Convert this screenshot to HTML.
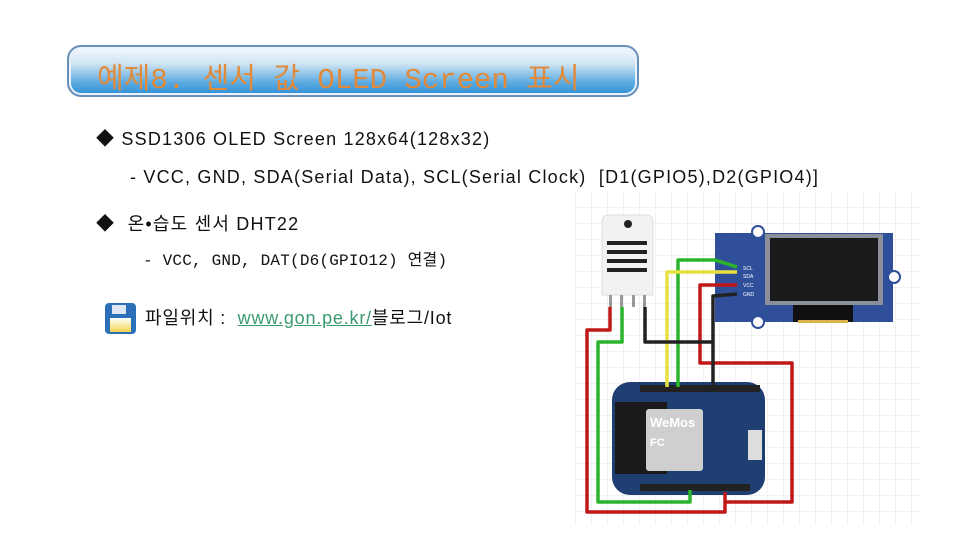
<!DOCTYPE html>
<html><head><meta charset="utf-8"><style>
body{margin:0;width:960px;height:540px;background:#fff;position:relative;overflow:hidden;font-family:"Liberation Sans","Noto Sans CJK KR",sans-serif;color:#111}
.t{position:absolute;white-space:nowrap;font-size:18px;line-height:20px;letter-spacing:1.2px}
.title{position:absolute;left:67px;top:45px;width:572px;height:52px;border-radius:14px;border:2px solid #6a8fb8;box-sizing:border-box;background:linear-gradient(#f4f9fd 0%,#cfe4f4 35%,#5aa9e0 75%,#2f8fd8 100%);box-shadow:inset 0 0 0 2px #e8f2fb}
.title span{position:absolute;left:28px;top:8px;font-size:29px;color:#e08a3a;font-family:"Liberation Mono","Noto Sans CJK KR",monospace;font-weight:normal}
</style></head><body>
<div class="title"><span>예제8. 센서 값 OLED Screen 표시</span></div>
<div class="t" style="left:96px;top:129px">◆ SSD1306 OLED Screen 128x64(128x32)</div>
<div class="t" style="left:130px;top:167px">- VCC, GND, SDA(Serial Data), SCL(Serial Clock) &nbsp;[D1(GPIO5),D2(GPIO4)]</div>
<div class="t" style="left:96px;top:214px">◆ &nbsp;온•습도 센서 DHT22</div>
<div class="t" style="left:143px;top:251px;font-family:'Liberation Mono','Noto Sans CJK KR',monospace;font-size:16px;letter-spacing:0.2px">- VCC, GND, DAT(D6(GPIO12) 연결)</div>
<div style="position:absolute;left:105px;top:303px;width:31px;height:31px;border-radius:4px;background:#2a6fb8"><div style="position:absolute;left:7px;top:2px;width:14px;height:9px;background:#dfe8f2"></div><div style="position:absolute;left:5px;top:15px;width:21px;height:14px;background:linear-gradient(#fff,#f3d44a)"></div></div>
<div class="t" style="left:145px;top:308px;letter-spacing:0.8px">파일위치 : &nbsp;<span style="color:#3a9a70;text-decoration:underline">www.gon.pe.kr/</span>블로그/Iot</div>
<svg style="position:absolute;left:0;top:0" width="960" height="540">
<defs><pattern id="g" width="16" height="16" patternUnits="userSpaceOnUse"><path d="M16 0V16H0" fill="none" stroke="#e6e6e6" stroke-width="1"/></pattern></defs>
<rect x="575" y="192" width="345" height="333" fill="url(#g)"/>
<rect x="715" y="233" width="178" height="89" fill="#2f4f9a"/>
<circle cx="758" cy="232" r="6" fill="#fff" stroke="#2f4f9a" stroke-width="2"/>
<circle cx="758" cy="322" r="6" fill="#fff" stroke="#2f4f9a" stroke-width="2"/>
<circle cx="894" cy="277" r="6" fill="#fff" stroke="#2f4f9a" stroke-width="2"/>
<rect x="765" y="234" width="118" height="71" fill="#8a8f9a"/>
<rect x="770" y="238" width="108" height="63" fill="#1a1a1a"/>
<rect x="793" y="305" width="60" height="17" fill="#111"/>
<rect x="798" y="320" width="50" height="3" fill="#d9b24a"/>
<g font-size="5" fill="#fff" font-family="Liberation Sans"><text x="743" y="270">SCL</text><text x="743" y="278">SDA</text><text x="743" y="287">VCC</text><text x="743" y="296">GND</text></g>
<path d="M602 222q0-7 7-7h37q7 0 7 7v73h-51z" fill="#f2f2f2" stroke="#ddd"/>
<circle cx="628" cy="224" r="4" fill="#222"/>
<g fill="#222"><rect x="607" y="241" width="40" height="4"/><rect x="607" y="250" width="40" height="4"/><rect x="607" y="259" width="40" height="4"/><rect x="607" y="268" width="40" height="4"/></g>
<g fill="#999"><rect x="609" y="295" width="3" height="12"/><rect x="620" y="295" width="3" height="12"/><rect x="632" y="295" width="3" height="12"/><rect x="643" y="295" width="3" height="12"/></g>
<rect x="612" y="382" width="153" height="113" rx="18" fill="#1f3f73"/>
<rect x="615" y="402" width="52" height="72" fill="#1a1a1a"/>
<rect x="646" y="409" width="57" height="62" rx="3" fill="#cfcfcf"/>
<text x="650" y="427" font-size="13" fill="#fff" font-weight="bold" font-family="Liberation Sans">WeMos</text>
<text x="650" y="446" font-size="11" fill="#fff" font-weight="bold">FC</text>
<g fill="#222"><rect x="640" y="385" width="120" height="7"/><rect x="640" y="484" width="110" height="7"/></g>
<rect x="748" y="430" width="14" height="30" fill="#ddd"/>
<g fill="none" stroke-width="3.5" stroke-linejoin="round">
<path d="M610 307V330H587V512H725V492" stroke="#c01818"/>
<path d="M737 285H700V363H792V502H725" stroke="#c01818"/>
<path d="M622 307V342H598V502H690V490" stroke="#2bb52b"/>
<path d="M678 387V260H715L737 267" stroke="#2bb52b"/>
<path d="M667 387V272H737" stroke="#e6e040"/>
<path d="M645 307V342H713V387M713 342V296L737 294" stroke="#222"/>
</g>
</svg>
</body></html>
